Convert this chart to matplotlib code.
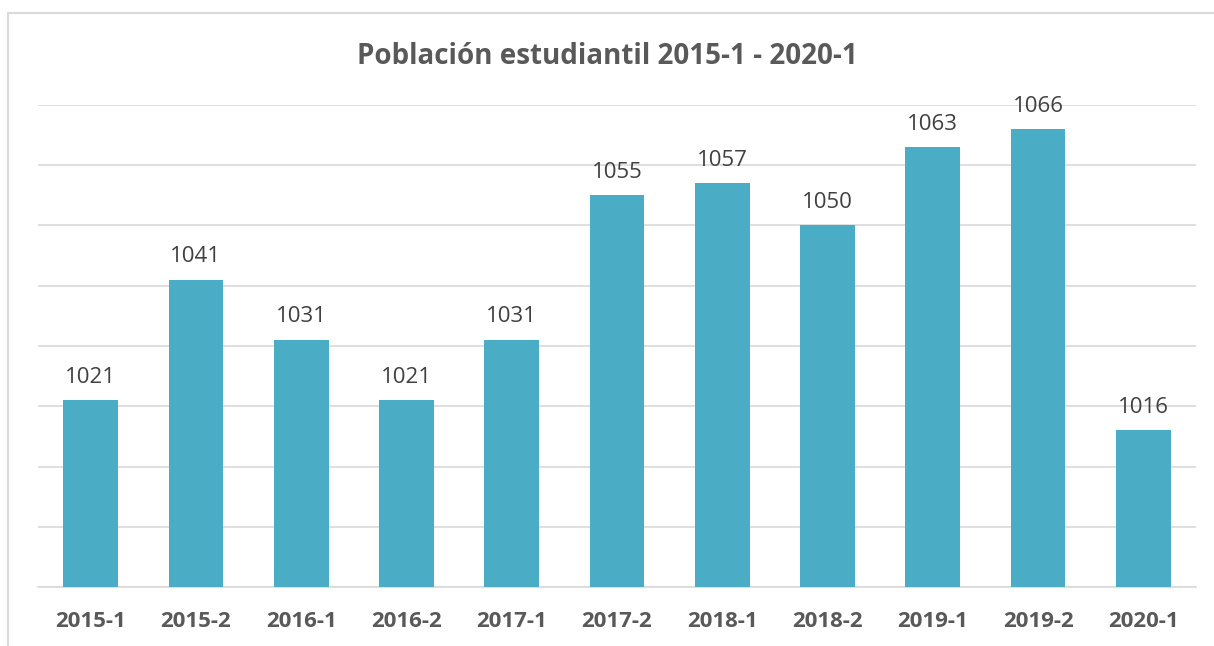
import matplotlib.pyplot as plt
from matplotlib.patches import Rectangle

periodos = ['2015-1', '2015-2', '2016-1', '2016-2', '2017-1', '2017-2',
            '2018-1', '2018-2', '2019-1', '2019-2', '2020-1']
estudiantes = [1021, 1041, 1031, 1021, 1031, 1055, 1057, 1050, 1063, 1066, 1016]

plt.rcParams['font.family'] = ['Open Sans', 'DejaVu Sans']

fig = plt.figure(figsize=(12.14, 6.46), dpi=100)
ax = fig.add_axes([0.0313, 0.0913, 0.9539, 0.7462])

bars = ax.bar(range(len(periodos)), estudiantes, width=0.52, color='#4BACC6', zorder=3)
ax.set_ylim(990, 1070)
ax.set_xlim(-0.5, len(periodos) - 0.5)
ax.set_yticks(range(990, 1071, 10))
ax.yaxis.grid(True, color='#D9D9D9', linewidth=1.2, zorder=0)
ax.tick_params(axis='y', left=False, labelleft=False)
ax.tick_params(axis='x', length=0, pad=17)
ax.set_xticks(range(len(periodos)))
ax.set_xticklabels(periodos, fontsize=16, fontweight='bold', color='#595959')
for s in ['top', 'right', 'left']:
    ax.spines[s].set_visible(False)
ax.spines['bottom'].set_color('#D9D9D9')
ax.spines['bottom'].set_linewidth(1.2)

ax.bar_label(bars, labels=[str(v) for v in estudiantes], padding=9,
             fontsize=16, color='#404040')

fig.text(0.5, 0.912, 'Población estudiantil 2015-1 - 2020-1', ha='center', va='center',
         fontsize=20, fontweight='bold', color='#595959')

fig.patches.append(Rectangle((8 / 1214, -0.05), 1.05, 1.05 - 13 / 646,
                             transform=fig.transFigure, fill=False,
                             edgecolor='#D9D9D9', linewidth=1.5))

fig.savefig('out.png', dpi=100)
